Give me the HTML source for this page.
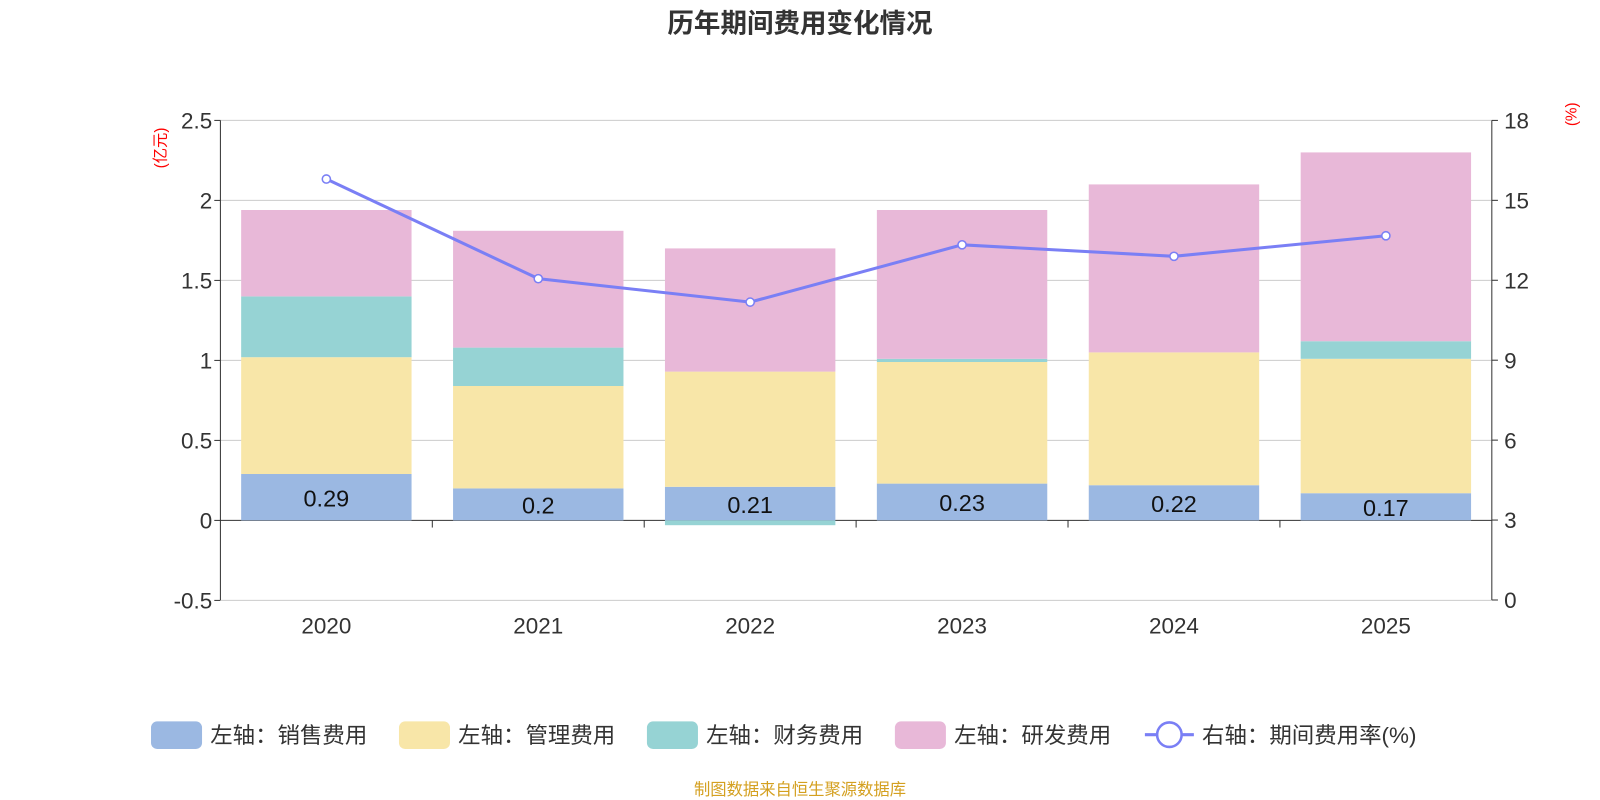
<!DOCTYPE html>
<html><head><meta charset="utf-8"><style>
html,body{margin:0;padding:0;background:#fff;}
svg{display:block;font-family:"Liberation Sans","Noto Sans CJK SC",sans-serif;}
</style></head><body>
<svg id="c" width="1600" height="800" viewBox="0 0 1600 800">
<g transform="scale(1.0204)">
<text x="784" y="32" text-anchor="middle" font-size="26" font-weight="bold" fill="#333">历年期间费用变化情况</text>
<text transform="translate(162,145) rotate(-90)" text-anchor="middle" font-size="15" fill="#f00">(亿元)</text>
<text transform="translate(1545,112) rotate(-90)" text-anchor="middle" font-size="15" fill="#f00">(%)</text>
<g id="grid"></g><g id="bars"></g><g id="axes"></g><g id="line"></g>
<g id="legend" font-size="22" fill="#333"></g>
<text x="784" y="779" text-anchor="middle" font-size="16" fill="#d4a020">制图数据来自恒生聚源数据库</text>
</g>
</svg>
<script>
const categories=["2020","2021","2022","2023","2024","2025"];
const sales=[0.29,0.2,0.21,0.23,0.22,0.17];
const mgmt=[0.73,0.64,0.72,0.76,0.83,0.84];
const fin=[0.38,0.24,-0.03,0.02,0.0,0.11];
const rnd=[0.54,0.73,0.77,0.93,1.05,1.18];
const rate=[15.8,12.06,11.18,13.33,12.9,13.67];
const leftTicks=[-0.5,0,0.5,1,1.5,2,2.5];
const rightTicks=[0,3,6,9,12,15,18];
const NS="http://www.w3.org/2000/svg";
const X0=216,X1=1462,Y0=118,Y1=588;
const yL=v=>510-(v/0.5)*78.4;
const yR=v=>Y1-v/18*(Y1-Y0);
const band=(X1-X0)/categories.length;
const xC=i=>X0+band*(i+0.5);
function mk(p,tag,a){const e=document.createElementNS(NS,tag);for(const k in a)e.setAttribute(k,a[k]);document.getElementById(p).appendChild(e);return e;}
leftTicks.forEach(t=>{
 const g=mk('grid','line',{x1:X0,x2:X1,y1:yL(t),y2:yL(t),stroke:t===0?'#333':'#ccc','stroke-width':1});
 
 
 const l=mk('axes','text',{x:X0-8,y:yL(t)+8,'text-anchor':'end','font-size':22,fill:'#333'});l.textContent=t;
 
 
 mk('axes','line',{x1:X0-6,x2:X0,y1:yL(t),y2:yL(t),stroke:'#333'});
});
rightTicks.forEach(t=>{
 const l=mk('axes','text',{x:X1+12,y:yR(t)+8,'font-size':22,fill:'#333'});l.textContent=t;
 
 
 mk('axes','line',{x1:X1,x2:X1+6,y1:yR(t),y2:yR(t),stroke:'#333'});
});
mk('axes','line',{x1:X0,x2:X0,y1:Y0,y2:Y1,stroke:'#333'});
mk('axes','line',{x1:X1,x2:X1,y1:Y0,y2:Y1,stroke:'#333'});
for(let i=1;i<categories.length;i++)mk('axes','line',{x1:X0+band*i,x2:X0+band*i,y1:510,y2:517,stroke:'#333'});
const series=[[sales,'#9bb8e2'],[mgmt,'#f8e6a8'],[fin,'#96d3d4'],[rnd,'#e8b8d8']];
const bw=167;
categories.forEach((c,i)=>{
 let pos=0,neg=0;
 series.forEach(([arr,col],s)=>{
  const v=arr[i];let a,b;
  if(v>=0){a=pos;b=pos+v;pos=b;}else{a=neg;b=neg+v;neg=b;}
  const r=mk('bars','rect',{x:xC(i)-bw/2,width:bw,y:Math.min(yL(a),yL(b)),height:Math.abs(yL(a)-yL(b)),fill:col});
  
  
 });
 const t=mk('bars','text',{x:xC(i),y:(yL(0)+yL(sales[i]))/2+9,'text-anchor':'middle','font-size':23,fill:'#111'});t.textContent=sales[i];
 
 
 const xl=mk('axes','text',{x:xC(i),y:621,'text-anchor':'middle','font-size':22,fill:'#333'});xl.textContent=c;
 
 
});
const pl=mk('line','polyline',{points:rate.map((v,i)=>xC(i)+','+yR(v)).join(' '),fill:'none',stroke:'#7a7ff5','stroke-width':3});


rate.forEach((v,i)=>{const p=mk('line','circle',{cx:xC(i),cy:yR(v),r:4,fill:'#fff',stroke:'#7a7ff5','stroke-width':1.5});
 
 });
const legs=[['左轴：销售费用','#9bb8e2',148],['左轴：管理费用','#f8e6a8',391],['左轴：财务费用','#96d3d4',634],['左轴：研发费用','#e8b8d8',877]];
legs.forEach(([t,c,x])=>{
 const r=mk('legend','rect',{x:x,y:707,width:50,height:27,rx:6,fill:c});
 
 
 const tx=mk('legend','text',{x:x+58,y:728});tx.textContent=t;
 
 
});
mk('legend','line',{x1:1122,x2:1170,y1:720,y2:720,stroke:'#7a7ff5','stroke-width':3});
mk('legend','circle',{cx:1146,cy:720,r:12,fill:'#fff',stroke:'#7a7ff5','stroke-width':2.5});
const lt=mk('legend','text',{x:1178,y:728});lt.textContent='右轴：期间费用率(%)';


</script>
</body></html>
